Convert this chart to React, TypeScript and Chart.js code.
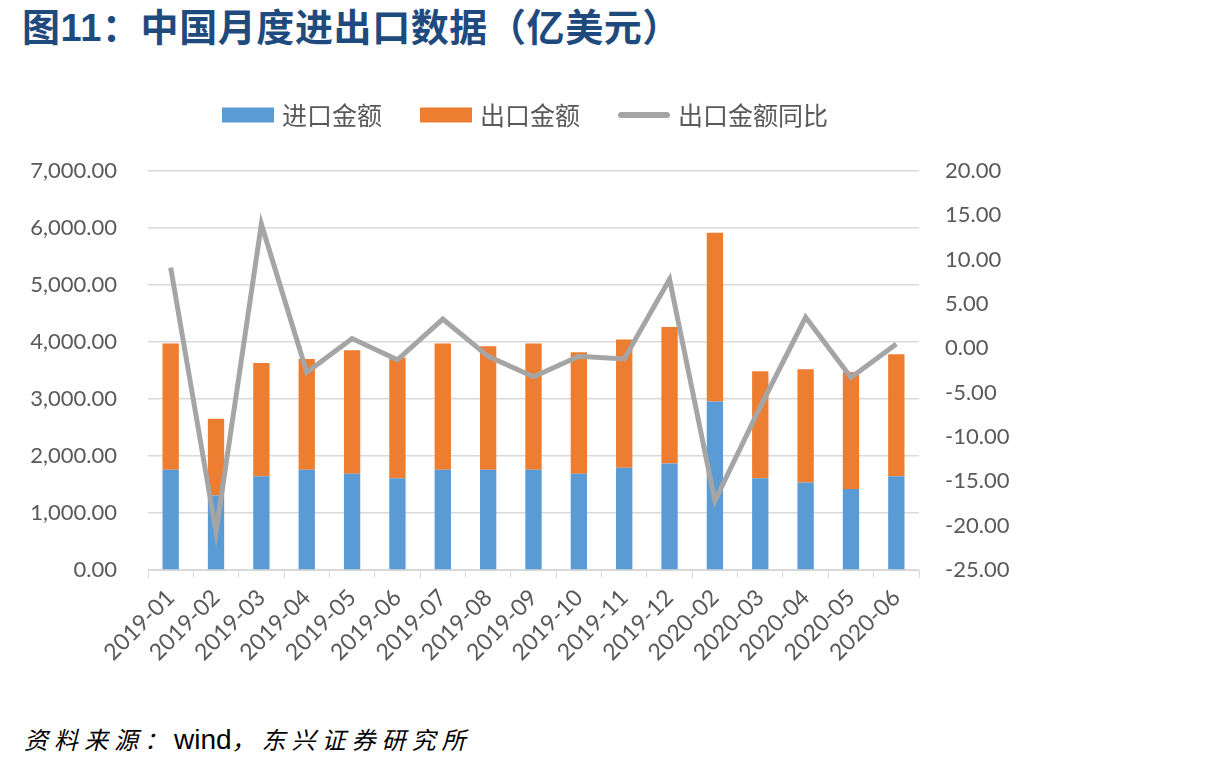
import React, { useEffect, useRef } from "react";
import { Chart, registerables } from "chart.js";

Chart.register(...registerables);

const categories = [
  "2019-01", "2019-02", "2019-03", "2019-04", "2019-05", "2019-06", "2019-07", "2019-08", "2019-09",
  "2019-10", "2019-11", "2019-12", "2020-02", "2020-03", "2020-04", "2020-05", "2020-06",
];
const importValues = [1757, 1306, 1645, 1757, 1687, 1610, 1757, 1757, 1757, 1687, 1793, 1868, 2958, 1610, 1534, 1423, 1645];
const exportValues = [2215, 1348, 1986, 1944, 2167, 2116, 2215, 2167, 2215, 2132, 2249, 2396, 2958, 1875, 1986, 2050, 2139];
const exportYoY = [9.1, -20.7, 14.0, -2.7, 1.1, -1.3, 3.3, -0.9, -3.2, -0.9, -1.2, 7.8, -17.2, -6.6, 3.5, -3.3, 0.5];
const leftTicks = { min: 0, max: 7000, step: 1000 };
const rightTicks = { min: -25, max: 20, step: 5 };

const seriesNames = ["进口金额", "出口金额", "出口金额同比"];
const colors = { import: "#5B9BD5", export: "#ED7D31", yoy: "#A5A5A5" };
const tickColor = "#595959";
const gridColor = "#D9D9D9";
const numFont = "Lato, 'Noto Sans', sans-serif";
const cjkFont = "'Noto Sans CJK SC', sans-serif";

const legendPlugin = {
  id: "customLegend",
  afterDraw(chart: any) {
    const ctx = chart.ctx;
    ctx.save();
    ctx.font = `25px ${cjkFont}`;
    ctx.textBaseline = "middle";
    const boxW = 52;
    const gapText = 8;
    const gapItem = 38;
    const items = chart.data.datasets.map((d: any) => ({
      label: d.label,
      color: d.type === "line" ? d.borderColor : d.backgroundColor,
      isLine: d.type === "line",
    }));
    const ordered = [...items].sort((a: any, b: any) => seriesNames.indexOf(a.label) - seriesNames.indexOf(b.label));
    const widths = ordered.map((it: any) => boxW + gapText + ctx.measureText(it.label).width);
    const total = widths.reduce((a: number, b: number) => a + b, 0) + gapItem * (ordered.length - 1);
    let x = 525 - total / 2;
    const cy = 115;
    ordered.forEach((it: any, i: number) => {
      if (it.isLine) {
        ctx.strokeStyle = it.color;
        ctx.lineWidth = 6;
        ctx.lineCap = "round";
        ctx.beginPath();
        ctx.moveTo(x + 3, cy);
        ctx.lineTo(x + boxW - 3, cy);
        ctx.stroke();
      } else {
        ctx.fillStyle = it.color;
        ctx.fillRect(x, cy - 7.5, boxW, 15);
      }
      ctx.fillStyle = tickColor;
      ctx.textAlign = "left";
      ctx.fillText(it.label, x + boxW + gapText, cy);
      x += widths[i] + gapItem;
    });
    ctx.restore();
  },
};

export default function App() {
  const canvasRef = useRef<HTMLCanvasElement | null>(null);

  useEffect(() => {
    if (!canvasRef.current) return;
    const chart = new Chart(canvasRef.current, {
      type: "bar",
      data: {
        labels: categories,
        datasets: [
          {
            type: "line",
            label: seriesNames[2],
            data: exportYoY,
            yAxisID: "y1",
            borderColor: colors.yoy,
            backgroundColor: colors.yoy,
            borderWidth: 5,
            pointRadius: 0,
            tension: 0,
            borderJoinStyle: "miter",
            order: 0,
          } as any,
          {
            type: "bar",
            label: seriesNames[0],
            data: importValues,
            yAxisID: "y",
            backgroundColor: colors.import,
            barPercentage: 0.36,
            categoryPercentage: 1,
            order: 1,
            stack: "s",
          } as any,
          {
            type: "bar",
            label: seriesNames[1],
            data: exportValues,
            yAxisID: "y",
            backgroundColor: colors.export,
            barPercentage: 0.36,
            categoryPercentage: 1,
            order: 2,
            stack: "s",
          } as any,
        ],
      },
      options: {
        animation: false,
        responsive: false,
        maintainAspectRatio: false,
        layout: { padding: { top: 171, left: 0, right: 0, bottom: 0 } },
        plugins: { legend: { display: false }, tooltip: { enabled: false }, title: { display: false } },
        scales: {
          x: {
            stacked: true,
            offset: true,
            grid: {
              display: true,
              drawOnChartArea: false,
              drawTicks: true,
              tickLength: 8,
              color: gridColor,
              offset: true,
            },
            border: { display: true, color: gridColor, width: 1 },
            ticks: {
              color: tickColor,
              font: { family: numFont, size: 23 },
              maxRotation: 45,
              minRotation: 45,
              autoSkip: false,
              padding: 6,
            },
            afterFit: (s: any) => {
              s.height = 130;
            },
          },
          y: {
            type: "linear",
            position: "left",
            stacked: true,
            min: leftTicks.min,
            max: leftTicks.max,
            grid: { color: gridColor, lineWidth: 1.5, drawTicks: false },
            border: { display: false },
            ticks: {
              stepSize: leftTicks.step,
              color: tickColor,
              font: { family: numFont, size: 22 },
              padding: 31,
              callback: (v: any) =>
                Number(v).toLocaleString("en-US", { minimumFractionDigits: 2, maximumFractionDigits: 2 }),
            },
            afterFit: (s: any) => {
              s.width = 148;
            },
          },
          y1: {
            type: "linear",
            position: "right",
            min: rightTicks.min,
            max: rightTicks.max,
            grid: { display: false, drawOnChartArea: false, drawTicks: false },
            border: { display: false },
            ticks: {
              stepSize: rightTicks.step,
              color: tickColor,
              font: { family: numFont, size: 22 },
              padding: 26,
              callback: (v: any) => Number(v).toFixed(2),
            },
            afterFit: (s: any) => {
              s.width = 131;
            },
          },
        },
      },
      plugins: [legendPlugin],
    });
    return () => chart.destroy();
  }, []);

  return (
    <div style={{ position: "absolute", left: 0, top: 0, width: 1214, height: 768, background: "#fff", overflow: "hidden" }}>
      <div
        style={{
          position: "absolute",
          left: 22,
          top: 5,
          fontFamily: "Arial, 'Noto Sans CJK SC', sans-serif",
          fontWeight: "bold",
          fontSize: 38,
          color: "#1F4A7E",
          whiteSpace: "nowrap",
          lineHeight: "46px",
          letterSpacing: 0.6,
        }}
      >
        图11：中国月度进出口数据（亿美元）
      </div>
      <canvas ref={canvasRef} width={1050} height={700} style={{ position: "absolute", left: 0, top: 0, width: 1050, height: 700 }} />
      <div
        style={{
          position: "absolute",
          left: 24,
          top: 722,
          fontFamily: "'Noto Sans CJK SC', sans-serif",
          fontStyle: "italic",
          fontSize: 24,
          color: "#000",
          whiteSpace: "nowrap",
          lineHeight: "34px",
          letterSpacing: 6,
        }}
      >
        资料来源：<span style={{ letterSpacing: 0, fontFamily: "Arial, sans-serif", fontStyle: "normal", fontSize: 28 }}>wind</span>，东兴证券研究所
      </div>
    </div>
  );
}
